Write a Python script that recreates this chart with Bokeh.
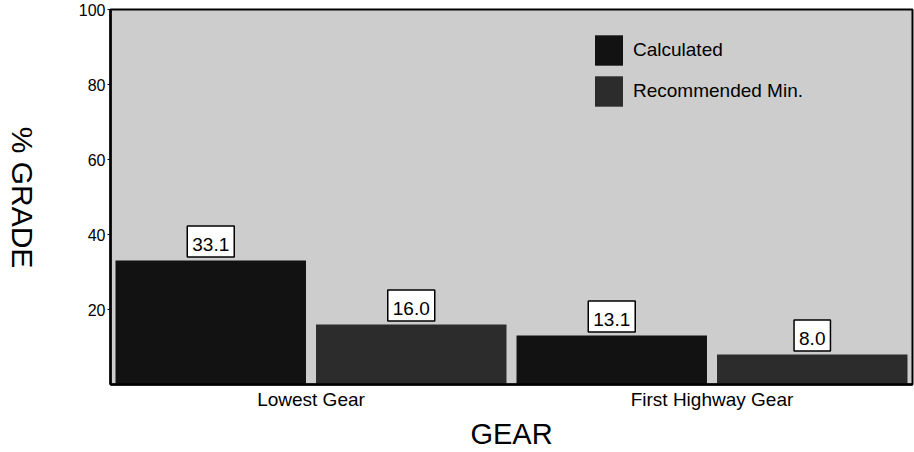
import math
from bokeh.plotting import figure
from bokeh.layouts import row
from bokeh.models import ColumnDataSource, FactorRange, Label
from bokeh.core.properties import value
from bokeh.embed import file_html
from bokeh.resources import INLINE
from bokeh.transform import factor_cmap

gears = ["Lowest Gear", "First Highway Gear"]
series = ["Calculated", "Recommended Min."]
calculated = [33.1, 13.1]
recommended = [16.0, 8.0]
y_ticks = [20, 40, 60, 80, 100]
bar_colors = ["#121212", "#2c2c2c"]

x = [(g, s) for g in gears for s in series]
vals = []
for c, r in zip(calculated, recommended):
    vals += [c, r]
labels = [f"{v:.1f}" for v in vals]
ser = [s for g in gears for s in series]
src = ColumnDataSource(dict(x=x, v=vals, lab=labels, s=ser))

FONT = "Liberation Sans"
H = 452
LW = 50

# narrow side figure that holds the y-axis title (reads top to bottom)
side = figure(width=LW, height=H, output_backend="svg", toolbar_location=None,
              x_axis_location=None, y_axis_location=None,
              min_border=0, outline_line_color=None)
side.grid.visible = False
side.add_layout(Label(x=22, y=187, x_units="screen", y_units="screen",
                      text="% GRADE", angle=-math.pi / 2, text_align="center",
                      text_baseline="middle", text_font_size="30px",
                      text_font=FONT, text_color="black"))

p = figure(
    x_range=FactorRange(*x, range_padding=0, group_padding=0, factor_padding=0),
    y_range=(0, 100),
    width=914 - LW, height=H,
    output_backend="svg", toolbar_location=None,
    min_border_left=110 - LW, min_border_right=2, min_border_top=9, min_border_bottom=68,
    background_fill_color="#cdcdcd",
)

p.vbar(x="x", top="v", width=0.95, source=src,
       fill_color=factor_cmap("x", bar_colors, series, start=1, end=2),
       line_color=None, legend_field="s")

p.text(x="x", y="v", text="lab", source=src,
       text_align="center", text_baseline="middle",
       y_offset=-19, text_font_size="19px", text_font=value(FONT),
       text_color="black",
       background_fill_color="white", border_line_color="black",
       border_line_width=1.5, padding=dict(left=5, right=5, top=12, bottom=6))

p.xgrid.visible = False
p.ygrid.visible = False
p.outline_line_color = "black"
p.outline_line_width = 2

p.yaxis.ticker = y_ticks
p.yaxis.major_label_text_font_size = "16px"
p.yaxis.major_label_text_font = FONT
p.yaxis.major_label_text_color = "black"
p.yaxis.major_tick_in = 0
p.yaxis.major_tick_out = 3
p.yaxis.minor_tick_line_color = None
p.yaxis.major_label_standoff = 2
p.axis.axis_line_color = "black"
p.axis.axis_line_width = 2.5

p.xaxis.major_label_text_font_size = "0px"
p.xaxis.major_tick_line_color = None
p.xaxis.major_tick_out = 0
p.xaxis.major_label_standoff = 4
p.xaxis.group_text_font_size = "19px"
p.xaxis.group_text_font = FONT
p.xaxis.group_text_color = "black"
p.xaxis.group_text_font_style = "normal"
p.xaxis.separator_line_color = None
p.xaxis.axis_label = "GEAR"
p.xaxis.axis_label_text_font_size = "29px"
p.xaxis.axis_label_text_font = FONT
p.xaxis.axis_label_text_font_style = "normal"
p.xaxis.axis_label_text_color = "black"
p.xaxis.axis_label_standoff = 5

leg = p.legend[0]
leg.location = (481, 274)
leg.background_fill_alpha = 0
leg.border_line_color = None
leg.glyph_width = 35
leg.glyph_height = 38
leg.spacing = 3
leg.padding = 0
leg.margin = 0
leg.label_standoff = 7
leg.label_text_font = FONT
leg.label_text_font_size = "19px"
leg.label_text_color = "black"

layout = row(side, p, spacing=0)
open("out.html", "w").write(file_html(layout, INLINE))
